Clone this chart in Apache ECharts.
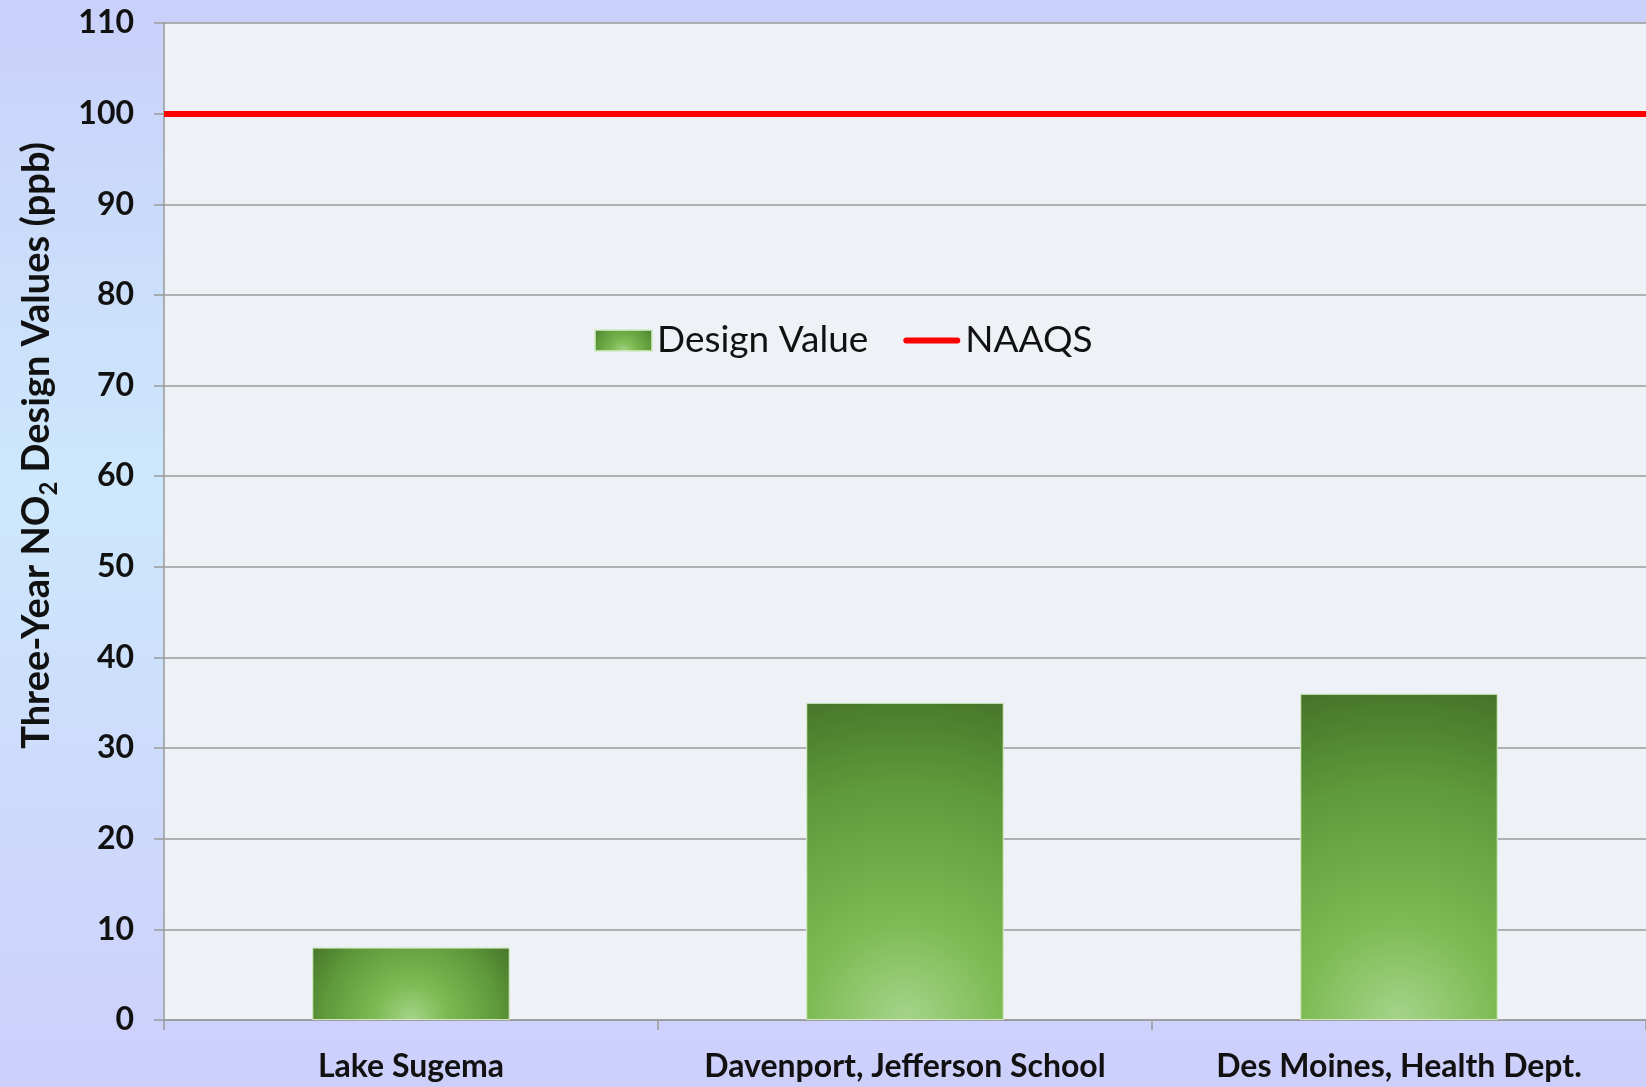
<!DOCTYPE html>
<html>
<head>
<meta charset="utf-8">
<title>NO2 Design Values</title>
<script src="https://cdn.jsdelivr.net/npm/echarts@6/dist/echarts.min.js"></script>
<style>
  html, body { margin: 0; padding: 0; }
  #chart {
    width: 1646px;
    height: 1087px;
    background: linear-gradient(to bottom, #c9d0fa 0%, #cbdefa 25%, #cde8fc 45%, #cddcfb 70%, #cdcffb 100%);
  }
</style>
</head>
<body>
<div id="chart"></div>
<script>
// 站点名称
const sites = ["Lake Sugema", "Davenport, Jefferson School", "Des Moines, Health Dept."];
// 三年 NO2 设计值 (ppb)
const designValues = [8, 35, 36];
// 国家标准
const naaqsValue = 100;
const yTicks = { min: 0, max: 110, interval: 10 };

const chart = echarts.init(document.getElementById("chart"));

// 柱子的渐变色，底部中间最亮
const barColor = {
  type: "radial",
  x: 0.5,
  y: 1,
  r: 1.7,
  colorStops: [
    { offset: 0, color: "#a6d48b" },
    { offset: 0.3, color: "#7cba52" },
    { offset: 0.7, color: "#5f9a3b" },
    { offset: 1, color: "#47742a" }
  ]
};

const labelFont = "Lato, 'Open Sans', sans-serif";

const option = {
  textStyle: { fontFamily: labelFont },
  grid: {
    left: 164,
    right: 0,
    top: 23,
    bottom: 67,
    show: true,
    backgroundColor: "#eef2f7",
    borderWidth: 0
  },
  legend: {
    left: 589,
    top: 317,
    itemWidth: 57,
    itemHeight: 21,
    itemGap: 35,
    textStyle: { fontSize: 37, color: "#111", fontFamily: labelFont },
    data: [
      { name: "Design Value", icon: "rect" },
      // 红线图例，不要圆点
      { name: "NAAQS", icon: "path://M3,0 L54,0 A3,3 0 0 1 54,6 L3,6 A3,3 0 0 1 3,0 Z" }
    ]
  },
  xAxis: {
    type: "category",
    data: sites,
    axisLine: { lineStyle: { color: "#9a9a9a", width: 1.5 } },
    axisTick: { show: true, interval: 0, length: 10, lineStyle: { color: "#9a9a9a", width: 1.5 } },
    axisLabel: {
      interval: 0,
      margin: 31,
      fontSize: 32,
      fontWeight: "bold",
      color: "#111"
    }
  },
  yAxis: {
    type: "value",
    min: yTicks.min,
    max: yTicks.max,
    interval: yTicks.interval,
    name: "{b|Three-Year NO}{s|2}{b| Design Values (ppb)}",
    nameLocation: "middle",
    nameGap: 108,
    nameTextStyle: {
      padding: [0, 0, 0, 152],
      rich: {
        b: { fontSize: 38, fontWeight: "bold", color: "#111", lineHeight: 44, verticalAlign: "bottom", fontFamily: labelFont },
        s: { fontSize: 24, fontWeight: "bold", color: "#111", lineHeight: 44, verticalAlign: "bottom", fontFamily: labelFont, padding: [0, 0, -5, 0] }
      }
    },
    axisLine: { show: true, lineStyle: { color: "#9a9a9a", width: 1.5 } },
    axisTick: { show: true, length: 10, lineStyle: { color: "#9a9a9a", width: 1.5 } },
    axisLabel: {
      margin: 30,
      fontSize: 32,
      fontWeight: "bold",
      color: "#111"
    },
    splitLine: { lineStyle: { color: "#9a9a9a", width: 1.5 } }
  },
  series: [
    {
      name: "Design Value",
      type: "bar",
      data: designValues,
      barWidth: "40%",
      itemStyle: {
        color: barColor,
        borderColor: "rgba(210,235,195,0.8)",
        borderWidth: 1
      },
      z: 2
    },
    {
      name: "NAAQS",
      type: "line",
      data: [],
      symbol: "none",
      color: "#ff0000",
      lineStyle: { color: "#ff0000", width: 6 },
      markLine: {
        silent: true,
        symbol: "none",
        label: { show: false },
        lineStyle: { color: "#ff0000", width: 6, type: "solid" },
        data: [{ yAxis: naaqsValue }]
      },
      z: 3
    }
  ]
};

chart.setOption(option);
</script>
</body>
</html>
